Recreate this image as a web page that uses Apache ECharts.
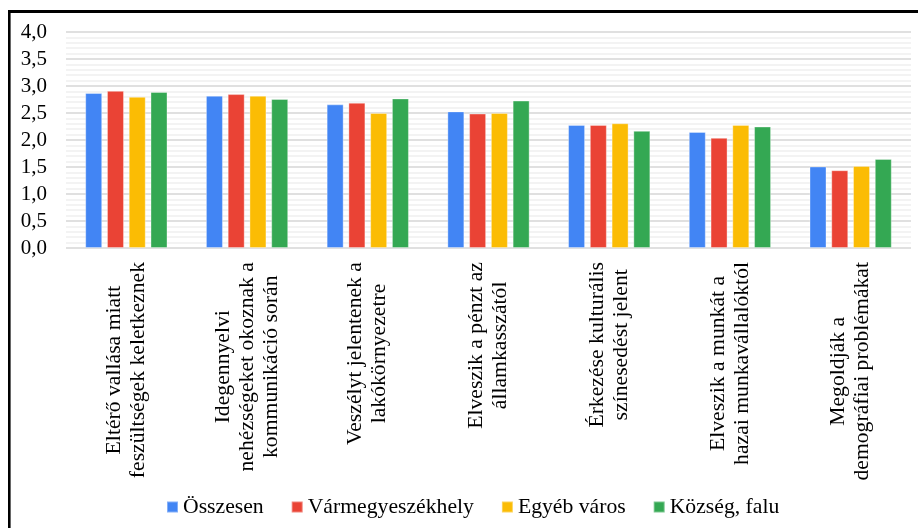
<!DOCTYPE html>
<html>
<head>
<meta charset="utf-8">
<script src="https://cdn.jsdelivr.net/npm/echarts@6/dist/echarts.min.js"></script>
<style>
  html, body { margin: 0; padding: 0; background: #fff; }
  #chart { width: 918px; height: 528px; }
</style>
</head>
<body>
<div id="chart"></div>
<script>
// Statements (category labels, line breaks as drawn)
const categories = [
  'Eltérő vallása miatt\nfeszültségek keletkeznek',
  'Idegennyelvi\nnehézségeket okoznak a\nkommunikáció során',
  'Veszélyt jelentenek a\nlakókörnyezetre',
  'Elveszik a pénzt az\nállamkasszától',
  'Érkezése kulturális\nszínesedést jelent',
  'Elveszik a munkát a\nhazai munkavállalóktól',
  'Megoldják a\ndemográfiai problémákat'
];

// Mean scores by settlement type
const osszesen         = [2.87, 2.82, 2.66, 2.53, 2.28, 2.15, 1.51];
const varmegyeszekhely = [2.91, 2.85, 2.69, 2.49, 2.28, 2.04, 1.44];
const egyebVaros       = [2.80, 2.82, 2.50, 2.50, 2.31, 2.28, 1.52];
const kozsegFalu       = [2.89, 2.76, 2.77, 2.73, 2.17, 2.25, 1.65];

const seriesNames = ['Összesen', 'Vármegyeszékhely', 'Egyéb város', 'Község, falu'];
const seriesColors = ['#4285F4', '#EA4335', '#FBBC04', '#34A853'];
const seriesData = [osszesen, varmegyeszekhely, egyebVaros, kozsegFalu];

const FONT = 'Liberation Serif';
const FS = 21.7;

const chart = echarts.init(document.getElementById('chart'), null, { renderer: 'canvas' });

chart.setOption({
  backgroundColor: '#fff',
  animation: false,
  textStyle: { fontFamily: FONT, color: '#000' },
  grid: {
    left: 66, right: 7, top: 32, bottom: 280,
    containLabel: false,
    outerBoundsMode: 'none'
  },
  legend: {
    left: 166, top: 496,
    padding: 0,
    itemWidth: 11, itemHeight: 11, itemGap: 27,
    icon: 'rect',
    textStyle: { fontFamily: FONT, fontSize: FS, color: '#000' },
    data: seriesNames
  },
  xAxis: {
    type: 'category',
    data: categories,
    axisLine: { show: false },
    axisTick: { show: false },
    axisLabel: {
      interval: 0,
      rotate: 90,
      margin: 14,
      fontFamily: FONT,
      fontSize: FS,
      lineHeight: 24,
      color: '#000',
      formatter: v => v.split('\n').map(l => '{c|' + l + '}').join('\n'),
      rich: {
        c: { align: 'center', fontFamily: FONT, fontSize: FS, lineHeight: 24, color: '#000' }
      }
    }
  },
  yAxis: {
    type: 'value',
    min: 0, max: 4, interval: 0.5,
    axisLine: { show: false },
    axisTick: { show: false },
    axisLabel: {
      margin: 19,
      fontFamily: FONT,
      fontSize: 21,
      color: '#000',
      formatter: v => v.toFixed(1).replace('.', ',')
    },
    splitLine: { lineStyle: { color: '#d6d6d6', width: 1.5 } },
    minorTick: { show: false, splitNumber: 5 },
    minorSplitLine: { show: true, lineStyle: { color: '#efefef', width: 1.5 } }
  },
  series: seriesData.map((d, i) => ({
    name: seriesNames[i],
    type: 'bar',
    data: d,
    barWidth: 17,
    barGap: '28%',
    itemStyle: {
      color: seriesColors[i],
      borderColor: 'rgba(255,255,255,0.35)',
      borderWidth: 1
    }
  })),
  graphic: [
    { type: 'line', silent: true, shape: { x1: 8, y1: 11.5, x2: 918, y2: 11.5 }, style: { stroke: '#000', lineWidth: 3 } },
    { type: 'line', silent: true, shape: { x1: 9.3, y1: 10, x2: 9.3, y2: 528 }, style: { stroke: '#000', lineWidth: 2.6 } }
  ]
});
</script>
</body>
</html>
